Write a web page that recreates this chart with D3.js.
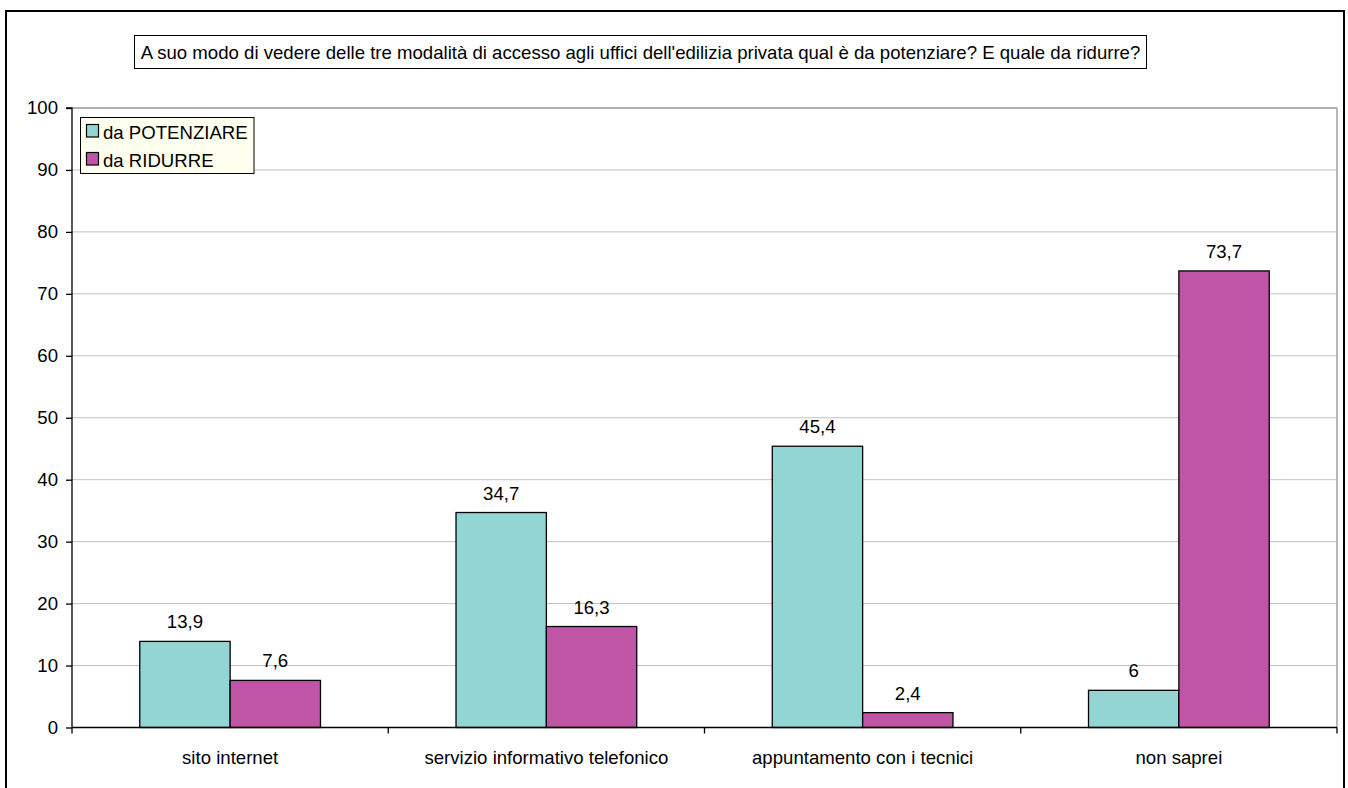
<!DOCTYPE html>
<html><head><meta charset="utf-8">
<script src="https://cdn.jsdelivr.net/npm/d3@7"></script>
<style>html,body{margin:0;padding:0;background:#fff;}svg{display:block;font-family:"Liberation Sans",Arial,sans-serif;}</style>
</head><body>
<svg id="c" width="1348" height="788"></svg>
<script>
const title = "A suo modo di vedere delle tre modalità di accesso agli uffici dell'edilizia privata qual è da potenziare? E quale da ridurre?";
const categories = ["sito internet", "servizio informativo telefonico", "appuntamento con i tecnici", "non saprei"];
const seriesNames = ["da POTENZIARE", "da RIDURRE"];
const potenziare = [13.9, 34.7, 45.4, 6];
const ridurre = [7.6, 16.3, 2.4, 73.7];
const yTicks = [0, 10, 20, 30, 40, 50, 60, 70, 80, 90, 100];
const colors = ["#93D5D3", "#C055A5"];

const FS = 18.6;
const svg = d3.select("#c");
const fmt = v => String(v).replace(".", ",");

// outer frame
svg.append("rect").attr("x", 6).attr("y", 11).attr("width", 1338).attr("height", 800)
  .attr("fill", "#fff").attr("stroke", "#000").attr("stroke-width", 2);

const L = 72, R = 1337, T = 108, B = 727.5;
const x = d3.scaleBand().domain(categories).range([L, R]).paddingInner(0).paddingOuter(0);
const y = d3.scaleLinear().domain([0, 100]).range([B, T]);
const series = [potenziare, ridurre];

// gridlines
svg.append("g").selectAll("line").data(yTicks.filter(d => d > 0)).join("line")
  .attr("x1", L).attr("x2", R).attr("y1", d => y(d)).attr("y2", d => y(d))
  .attr("stroke", "#C0C0C0").attr("stroke-width", 1);
// plot border (top/right)
svg.append("line").attr("x1", R).attr("x2", R).attr("y1", T).attr("y2", B)
  .attr("stroke", "#A0A0A0").attr("stroke-width", 1.5);
svg.append("line").attr("x1", L).attr("x2", R).attr("y1", T).attr("y2", T)
  .attr("stroke", "#A0A0A0").attr("stroke-width", 1.5);

// bars
const bw = x.bandwidth() / 3.5;
const off = bw * 0.75;
series.forEach((s, si) => {
  const g = svg.append("g");
  g.selectAll("rect").data(categories).join("rect")
    .attr("x", (c) => x(c) + off + si * bw)
    .attr("y", (c, i) => y(s[i]))
    .attr("width", bw)
    .attr("height", (c, i) => y(0) - y(s[i]))
    .attr("fill", colors[si]).attr("stroke", "#000").attr("stroke-width", 1.3);
  g.selectAll("text").data(categories).join("text")
    .attr("x", (c) => x(c) + off + si * bw + bw / 2)
    .attr("y", (c, i) => y(s[i]) - 13)
    .attr("text-anchor", "middle").attr("font-size", FS).attr("fill", "#000")
    .text((c, i) => fmt(s[i]));
});

// y axis
const yAxis = d3.axisLeft(y).tickValues(yTicks).tickSize(6).tickPadding(8);
const ya = svg.append("g").attr("transform", `translate(${L},0)`).call(yAxis);
ya.select(".domain").attr("stroke", "#000").attr("stroke-width", 1.3).attr("d", `M-6,${T}H0V${B}`);
ya.selectAll(".tick line").attr("stroke", "#000").attr("stroke-width", 1.3);
ya.selectAll(".tick text").attr("font-size", FS).attr("fill", "#000").attr("font-family", '"Liberation Sans",Arial,sans-serif');

// x axis
const xa = svg.append("g").attr("transform", `translate(0,${B})`).call(d3.axisBottom(x).tickSize(0).tickPadding(23));
xa.select(".domain").attr("stroke", "#000").attr("stroke-width", 1.3).attr("d", `M${L},0H${R}`);
xa.selectAll(".tick text").attr("font-size", FS).attr("fill", "#000").attr("font-family", '"Liberation Sans",Arial,sans-serif');
const bounds = categories.map(c => x(c)).concat([R]);
svg.append("g").selectAll("line").data(bounds).join("line")
  .attr("x1", d => d).attr("x2", d => d).attr("y1", B).attr("y2", B + 6)
  .attr("stroke", "#000").attr("stroke-width", 1.3);

// title box
const tg = svg.append("g");
tg.append("rect").attr("x", 134.5).attr("y", 35.5).attr("width", 1012).attr("height", 33)
  .attr("fill", "#fff").attr("stroke", "#000").attr("stroke-width", 1);
tg.append("text").attr("x", 640.5).attr("y", 58.5).attr("text-anchor", "middle")
  .attr("font-size", FS).attr("fill", "#000").text(title);

// legend
const lg = svg.append("g");
lg.append("rect").attr("x", 80.5).attr("y", 117.5).attr("width", 173.5).attr("height", 56)
  .attr("fill", "#FFFFF0").attr("stroke", "#000").attr("stroke-width", 1);
seriesNames.forEach((n, i) => {
  lg.append("rect").attr("x", 86.5).attr("y", 124.5 + i * 28).attr("width", 12).attr("height", 12.5)
    .attr("fill", colors[i]).attr("stroke", "#000").attr("stroke-width", 1.2);
  lg.append("text").attr("x", 103).attr("y", 139 + i * 28).attr("font-size", FS).attr("fill", "#000").text(n);
});
</script>
</body></html>
